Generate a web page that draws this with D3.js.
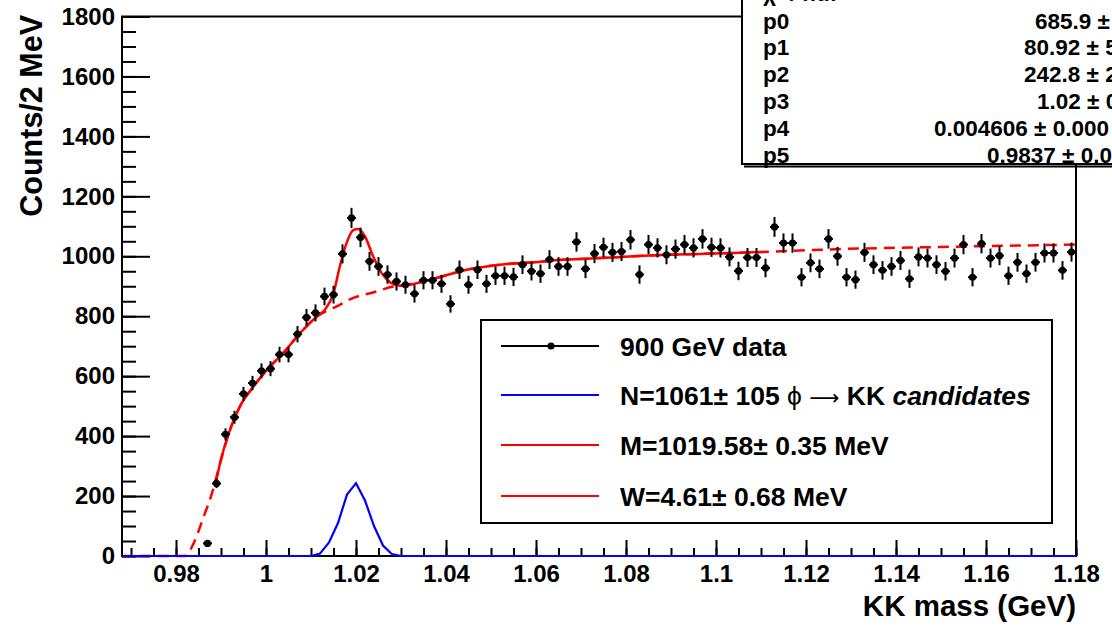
<!DOCTYPE html>
<html>
<head>
<meta charset="utf-8">
<script src="https://cdn.jsdelivr.net/npm/d3@7"></script>
<style>
  body { margin: 0; background: #fff; }
  svg { display: block; }
  text { font-family: "Liberation Sans", Arial, Helvetica, sans-serif; }
</style>
</head>
<body>
<svg id="chart" width="1112" height="626"></svg>
<script>
// Histogram: K+K- invariant mass, 2 MeV bins
const massLow = 0.986;      // lower edge of the first filled bin (GeV)
const binWidth = 0.002;     // GeV
const counts = [
  42, 242, 406, 463, 541, 577, 618, 625, 672, 672,
  740, 796, 811, 866, 872, 1008, 1128, 1063, 983, 966,
  939, 916, 905, 875, 920, 920, 908, 841, 955, 905,
  955, 908, 935, 935, 931, 972, 950, 942, 989, 966,
  966, 1048, 958, 1009, 1030, 1013, 1016, 1055, 939, 1039,
  1028, 1005, 1024, 1039, 1028, 1058, 1030, 1028, 998, 951,
  996, 996, 961, 1098, 1044, 1044, 930, 978, 958, 1058,
  1000, 930, 922, 1013, 972, 953, 966, 986, 925, 998,
  994, 972, 950, 994, 1039, 930, 1042, 994, 1002, 935,
  980, 942, 980, 1011, 1011, 953, 1014
];

// Background fit function (dashed), full range
const bgMass   = [0.968, 0.982, 0.984, 0.986, 0.988, 0.9898, 0.992, 0.9942, 0.9972, 1.0002, 1.0038, 1.0079, 1.0113, 1.0157, 1.0194, 1.0238, 1.0283, 1.0298, 1.0349, 1.0387, 1.0446, 1.052, 1.0594, 1.0668, 1.0742, 1.0816, 1.089, 1.0964, 1.1038, 1.1098, 1.1276, 1.1498, 1.1646, 1.18];
const bgCounts = [0, 0, 45, 125, 210, 310, 421, 499, 565, 621, 677, 749, 799, 833, 861, 879, 899, 902, 916, 931, 955, 972, 980, 989, 994, 1000, 1005, 1008, 1011, 1014, 1024, 1031, 1035, 1039];

// Signal + background fit (solid), fit range
const fitMass   = [0.9888, 0.9898, 0.992, 0.9942, 0.9972, 1.0002, 1.0038, 1.0079, 1.0113, 1.0131, 1.015, 1.0164, 1.0179, 1.0194, 1.0205, 1.022, 1.0238, 1.0257, 1.0276, 1.0298, 1.032, 1.0349, 1.0387, 1.0446, 1.052, 1.0594, 1.0668, 1.0742, 1.0816, 1.089, 1.0964, 1.1038, 1.11];
const fitCounts = [240, 310, 421, 499, 565, 621, 677, 749, 799, 822, 877, 966, 1044, 1087, 1091, 1066, 1000, 944, 913, 902, 905, 916, 931, 955, 972, 980, 989, 994, 1000, 1005, 1008, 1011, 1014];

// Signal component (blue)
const sigMass   = [0.968, 1.010, 1.012, 1.014, 1.016, 1.018, 1.020, 1.022, 1.024, 1.026, 1.028, 1.030, 1.18];
const sigCounts = [0, 0, 8, 45, 110, 205, 243, 185, 100, 35, 6, 0, 0];

// Axis ticks
const xTicksMajor = [0.98, 1.00, 1.02, 1.04, 1.06, 1.08, 1.10, 1.12, 1.14, 1.16, 1.18];
const xTickLabels = ["0.98", "1", "1.02", "1.04", "1.06", "1.08", "1.1", "1.12", "1.14", "1.16", "1.18"];
const yTicksMajor = [0, 200, 400, 600, 800, 1000, 1200, 1400, 1600, 1800];
const yTickLabels = ["0", "200", "400", "600", "800", "1000", "1200", "1400", "1600", "1800"];

// Legend and fit-parameter box text
const legendLabels = ["900 GeV data", "N=1061\u00B1 105 ", "M=1019.58\u00B1 0.35 MeV", "W=4.61\u00B1 0.68 MeV"];
const legendColors = ["#000000", "#0000ff", "#ff0000", "#ff0000"];
const statNames  = ["p0", "p1", "p2", "p3", "p4", "p5"];
const statValues = ["685.9 \u00B1", "80.92 \u00B1 5", "242.8 \u00B1 2", "1.02 \u00B1 0", "0.004606 \u00B1 0.000", "0.9837 \u00B1 0.0"];
const statValueX = [1035, 1024, 1024, 1037, 934, 987];

const svg = d3.select("#chart");
svg.append("rect").attr("width", 1112).attr("height", 626).attr("fill", "#fff");

const frameL = 122, frameR = 1076, frameT = 16.5, frameB = 556;
const x = d3.scaleLinear().domain([0.968, 1.18]).range([frameL, frameR]);
const y = d3.scaleLinear().domain([0, 1800]).range([frameB, frameT]);

// Frame
svg.append("rect")
  .attr("x", frameL).attr("y", frameT).attr("width", frameR - frameL).attr("height", frameB - frameT)
  .attr("fill", "none").attr("stroke", "#000").attr("stroke-width", 2);

function styleAxis(g, size) {
  g.select(".domain").remove();
  g.selectAll("line").attr("stroke", "#000").attr("stroke-width", 2);
  g.selectAll("text").attr("fill", "#000").attr("font-size", size).attr("font-weight", "bold")
    .attr("font-family", "Liberation Sans, Arial, sans-serif");
}

// X axis (ticks point into the frame)
const xMinor = d3.range(0, 43).map(i => 0.97 + i * 0.005);
svg.append("g").attr("transform", `translate(0,${frameB})`)
  .call(d3.axisBottom(x).tickValues(xMinor).tickSize(-8).tickFormat(""))
  .call(g => styleAxis(g, 24));
svg.append("g").attr("transform", `translate(0,${frameB})`)
  .call(d3.axisBottom(x).tickValues(xTicksMajor).tickSize(-16).tickPadding(9)
        .tickFormat((d, i) => xTickLabels[i]))
  .call(g => styleAxis(g, 24));

// Y axis
const yMinor = d3.range(0, 1801, 50);
svg.append("g").attr("transform", `translate(${frameL},0)`)
  .call(d3.axisLeft(y).tickValues(yMinor).tickSize(-14).tickFormat(""))
  .call(g => styleAxis(g, 24));
svg.append("g").attr("transform", `translate(${frameL},0)`)
  .call(d3.axisLeft(y).tickValues(yTicksMajor).tickSize(-28).tickPadding(7)
        .tickFormat((d, i) => yTickLabels[i]))
  .call(g => styleAxis(g, 24));

// Axis titles
svg.append("text")
  .attr("x", 1076).attr("y", 616)
  .attr("text-anchor", "end").attr("font-size", 29.5).attr("font-weight", "bold")
  .text("KK mass (GeV)");
svg.append("text")
  .attr("transform", "translate(41.5,15) rotate(-90)")
  .attr("text-anchor", "end").attr("font-size", 30.5).attr("font-weight", "bold")
  .text("Counts/2 MeV");

// Fit curves
const lineBg = d3.line().x((d, i) => x(bgMass[i])).y(d => y(d)).curve(d3.curveMonotoneX);
svg.append("path").datum(bgCounts).attr("d", lineBg)
  .attr("fill", "none").attr("stroke", "#ff0000").attr("stroke-width", 2.5)
  .attr("stroke-dasharray", "11,7");

const lineFit = d3.line().x((d, i) => x(fitMass[i])).y(d => y(d)).curve(d3.curveMonotoneX);
svg.append("path").datum(fitCounts).attr("d", lineFit)
  .attr("fill", "none").attr("stroke", "#ff0000").attr("stroke-width", 2.5);

const lineSig = d3.line().x((d, i) => x(sigMass[i])).y(d => y(d));
svg.append("path").datum(sigCounts).attr("d", lineSig)
  .attr("fill", "none").attr("stroke", "#0000ff").attr("stroke-width", 2.2);

// Data points with statistical errors
const points = counts.map((c, i) => ({ m: massLow + (i + 0.5) * binWidth, c }));
const gData = svg.append("g");
gData.selectAll("line.ev").data(points).join("line").attr("class", "ev")
  .attr("x1", d => x(d.m)).attr("x2", d => x(d.m))
  .attr("y1", d => y(d.c - Math.sqrt(d.c))).attr("y2", d => y(d.c + Math.sqrt(d.c)))
  .attr("stroke", "#000").attr("stroke-width", 2);
gData.selectAll("line.eh").data(points).join("line").attr("class", "eh")
  .attr("x1", d => x(d.m - binWidth / 2)).attr("x2", d => x(d.m + binWidth / 2))
  .attr("y1", d => y(d.c)).attr("y2", d => y(d.c))
  .attr("stroke", "#000").attr("stroke-width", 2);
gData.selectAll("circle").data(points).join("circle")
  .attr("cx", d => x(d.m)).attr("cy", d => y(d.c)).attr("r", 3.6).attr("fill", "#000");

// Legend
const lg = svg.append("g");
lg.append("rect").attr("x", 481).attr("y", 320).attr("width", 571).attr("height", 203)
  .attr("fill", "#fff").attr("stroke", "#000").attr("stroke-width", 2);
const rowY = [346, 395, 445, 496];
legendLabels.forEach((lab, i) => {
  lg.append("line").attr("x1", 501).attr("x2", 599).attr("y1", rowY[i]).attr("y2", rowY[i])
    .attr("stroke", legendColors[i]).attr("stroke-width", i === 0 ? 2 : 2.2);
  if (i === 0) lg.append("circle").attr("cx", 551).attr("cy", rowY[i]).attr("r", 3.6).attr("fill", "#000");
  const t = lg.append("text").attr("x", 620).attr("y", rowY[i] + 9.5)
    .attr("font-size", 26.5).attr("font-weight", "bold").attr("fill", "#000");
  t.append("tspan").text(lab);
  if (i === 1) {
    t.append("tspan").attr("font-weight", "normal").text("\u03D5 ");
    t.append("tspan").attr("font-weight", "normal").attr("font-family", "DejaVu Sans, sans-serif")
      .attr("font-size", 21).text("\u27F6");
    t.append("tspan").text(" KK ");
    t.append("tspan").attr("font-style", "italic").text("candidates");
  }
});

// Fit-parameter box
const sb = svg.append("g");
sb.append("rect").attr("x", 742).attr("y", -20).attr("width", 420).attr("height", 184)
  .attr("fill", "#fff").attr("stroke", "#000").attr("stroke-width", 2);
sb.append("line").attr("x1", 744).attr("x2", 1112).attr("y1", 166.5).attr("y2", 166.5)
  .attr("stroke", "#000").attr("stroke-width", 2);
sb.append("text").attr("x", 763).attr("y", 0.5).attr("font-size", 22.5).attr("font-weight", "bold")
  .text("\u03C7\u00B2 / ndf");
statNames.forEach((n, i) => {
  const base = 28.5 + 26.8 * i;
  sb.append("text").attr("x", 763).attr("y", base)
    .attr("font-size", 22.5).attr("font-weight", "bold").text(n);
  sb.append("text").attr("x", statValueX[i]).attr("y", base)
    .attr("font-size", 22.5).attr("font-weight", "bold").text(statValues[i]);
});
</script>
</body>
</html>
